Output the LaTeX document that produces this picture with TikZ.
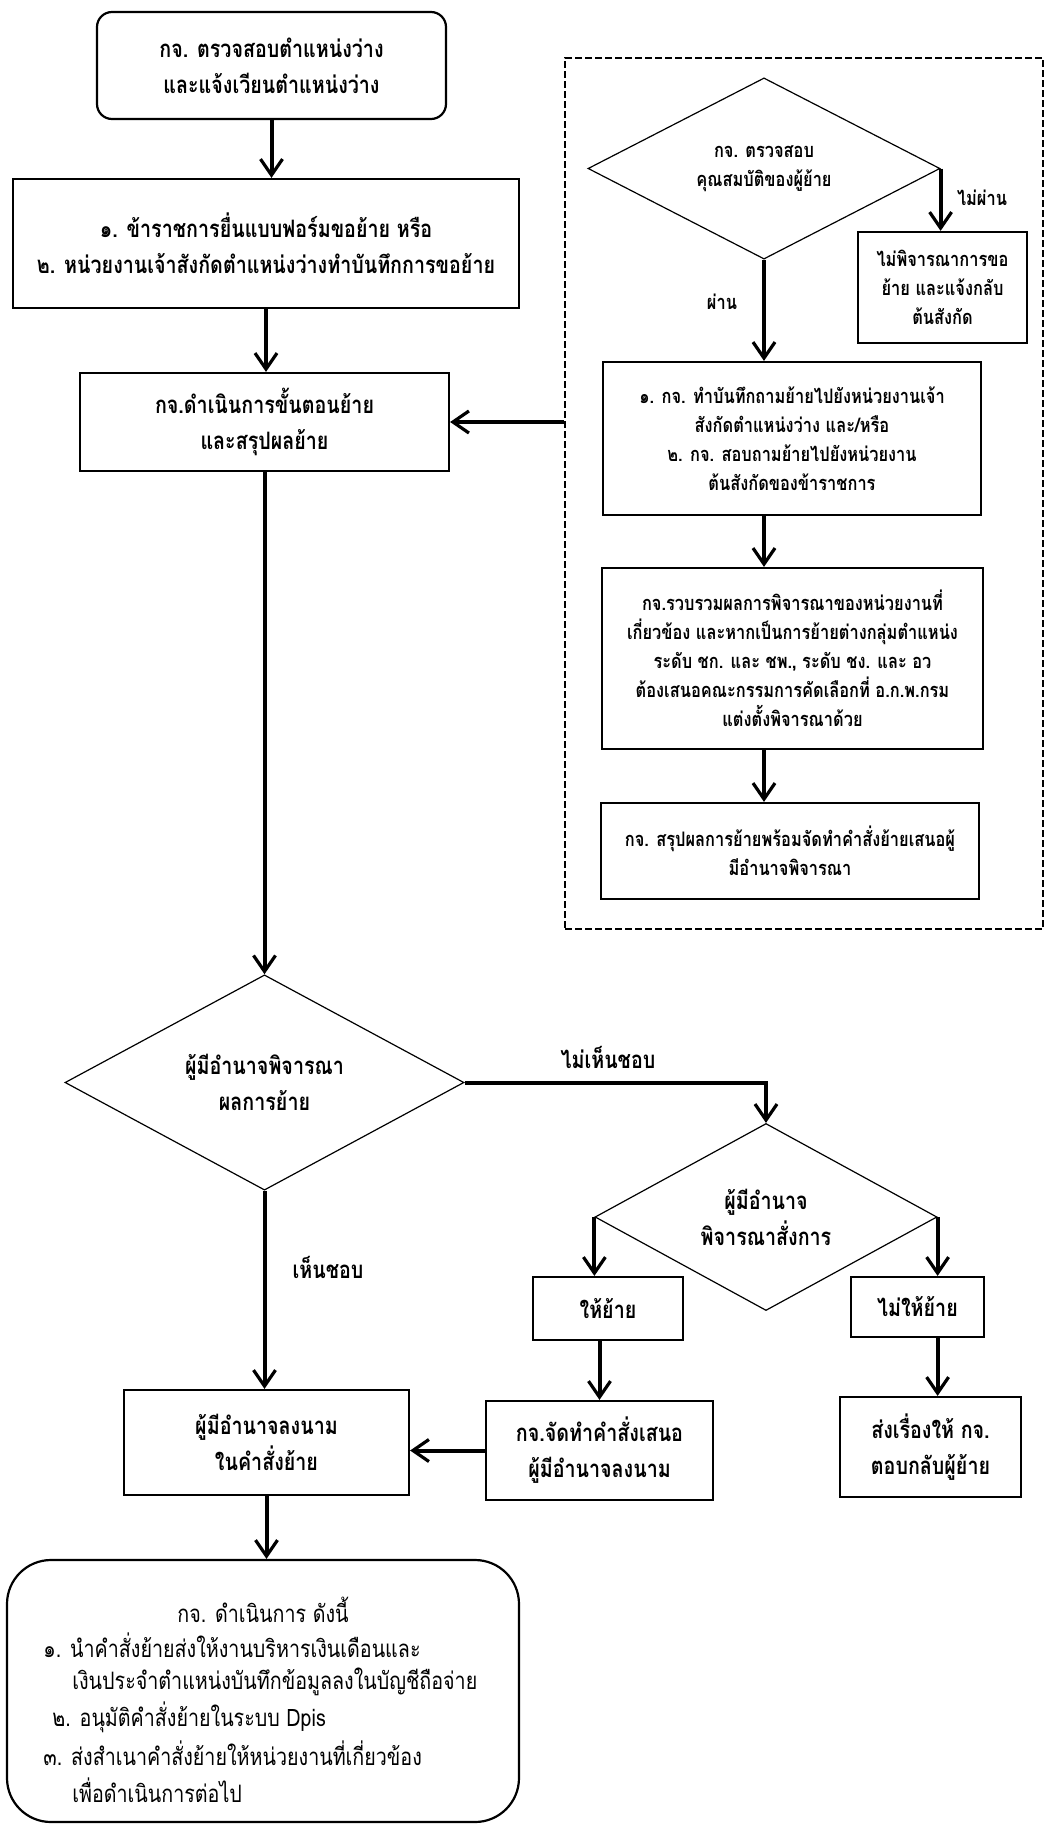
\documentclass[tikz,border=0pt]{standalone}
\usepackage{fontspec}
\setmainfont[Script=Thai,FakeStretch=0.82]{Loma}
\usetikzlibrary{shapes.geometric,arrows.meta}
\tikzset{
  mainfont/.style={font=\fontsize{12}{18}\selectfont\bfseries},
  smallfont/.style={font=\fontsize{10}{14.5}\selectfont\bfseries},
  box/.style={draw, line width=1.1pt, align=center, inner sep=0pt},
  dia/.style={draw, diamond, line width=0.6pt, align=center, inner sep=0pt},
  dashbox/.style={draw, line width=1pt, dash pattern=on 3.5pt off 1.5pt, inner sep=0pt},
  arr/.style={line width=2pt, -{Straight Barb[length=8pt,width=11pt,line width=1.6pt]}},
  lbl/.style={inner sep=0pt},
  ftext/.style={font=\fontsize{12}{18}\selectfont, inner sep=0pt, anchor=west}
}
\begin{document}
\begin{tikzpicture}[x=0.5pt,y=-0.5pt]
\useasboundingbox (0,0) rectangle (1049,1826);
% left column
\node[box, mainfont, rounded corners=7.5pt, minimum width=174.5pt, minimum height=53.5pt] (start) at (271.5,65.5)
  {กจ. ตรวจสอบตำแหน่งว่าง\\และแจ้งเวียนตำแหน่งว่าง};
\node[box, mainfont, minimum width=253pt, minimum height=64.5pt] (req) at (266,243.5)
  {๑. ข้าราชการยื่นแบบฟอร์มขอย้าย หรือ\\๒. หน่วยงานเจ้าสังกัดตำแหน่งว่างทำบันทึกการขอย้าย};
\node[box, mainfont, minimum width=184.5pt, minimum height=49pt] (proc) at (264.5,422)
  {กจ.ดำเนินการขั้นตอนย้าย\\และสรุปผลย้าย};
% dashed group
\node[dashbox, minimum width=239pt, minimum height=435.5pt] (grp) at (804,493.5) {};
\node[dia, smallfont, minimum width=176pt, minimum height=87.5pt] (dq) at (764,168.5)
  {กจ. ตรวจสอบ\\คุณสมบัติของผู้ย้าย};
\node[box, smallfont, minimum width=84.5pt, minimum height=55.5pt] (reject) at (942.5,287.5)
  {ไม่พิจารณาการขอ\\ย้าย และแจ้งกลับ\\ต้นสังกัด};
\node[box, smallfont, minimum width=189pt, minimum height=76.5pt] (memo) at (792,438.5)
  {๑. กจ. ทำบันทึกถามย้ายไปยังหน่วยงานเจ้า\\สังกัดตำแหน่งว่าง และ/หรือ\\๒. กจ. สอบถามย้ายไปยังหน่วยงาน\\ต้นสังกัดของข้าราชการ};
\node[box, smallfont, minimum width=190.5pt, minimum height=90.5pt] (collect) at (792.5,658.5)
  {กจ.รวบรวมผลการพิจารณาของหน่วยงานที่\\เกี่ยวข้อง และหากเป็นการย้ายต่างกลุ่มตำแหน่ง\\ระดับ ชก. และ ชพ., ระดับ ชง. และ อว\\ต้องเสนอคณะกรรมการคัดเลือกที่ อ.ก.พ.กรม\\แต่งตั้งพิจารณาด้วย};
\node[box, smallfont, minimum width=189pt, minimum height=48pt] (summ) at (790,851)
  {กจ. สรุปผลการย้ายพร้อมจัดทำคำสั่งย้ายเสนอผู้\\มีอำนาจพิจารณา};
% lower part
\node[dia, mainfont, minimum width=199.5pt, minimum height=84.5pt] (d2) at (264.5,1082.5)
  {ผู้มีอำนาจพิจารณา\\ผลการย้าย};
\node[dia, mainfont, minimum width=171pt, minimum height=85pt] (d3) at (766,1217)
  {ผู้มีอำนาจ\\พิจารณาสั่งการ};
\node[box, mainfont, minimum width=75pt, minimum height=31.5pt] (allow) at (608,1308.5) {ให้ย้าย};
\node[box, mainfont, minimum width=66.5pt, minimum height=30pt] (deny) at (917.5,1307) {ไม่ให้ย้าย};
\node[box, mainfont, minimum width=113.5pt, minimum height=49.5pt] (prep) at (599.5,1450.5)
  {กจ.จัดทำคำสั่งเสนอ\\ผู้มีอำนาจลงนาม};
\node[box, mainfont, minimum width=90.5pt, minimum height=50pt] (notify) at (930.5,1447)
  {ส่งเรื่องให้ กจ.\\ตอบกลับผู้ย้าย};
\node[box, mainfont, minimum width=142.5pt, minimum height=52.5pt] (sign) at (266.5,1442.5)
  {ผู้มีอำนาจลงนาม\\ในคำสั่งย้าย};
\node[box, rounded corners=22pt, minimum width=256pt, minimum height=131pt] (final) at (263,1691) {};
\node[ftext, anchor=center] (ft) at (263,1610) {กจ. ดำเนินการ ดังนี้};
\node[ftext] (f1) at (43,1645) {๑. นำคำสั่งย้ายส่งให้งานบริหารเงินเดือนและ};
\node[ftext] (f2) at (72,1682) {เงินประจำตำแหน่งบันทึกข้อมูลลงในบัญชีถือจ่าย};
\node[ftext] (f3) at (52,1717) {๒. อนุมัติคำสั่งย้ายในระบบ Dpis};
\node[ftext] (f4) at (43,1753) {๓. ส่งสำเนาคำสั่งย้ายให้หน่วยงานที่เกี่ยวข้อง};
\node[ftext] (f5) at (72,1790) {เพื่อดำเนินการต่อไป};
% labels
\node[lbl, smallfont] (lno) at (982,198) {ไม่ผ่าน};
\node[lbl, smallfont] (lyes) at (722,302) {ผ่าน};
\node[lbl, mainfont] (ldis) at (608,1057) {ไม่เห็นชอบ};
\node[lbl, mainfont] (lagr) at (328,1267) {เห็นชอบ};
% arrows
\draw[arr] (start.south) -- (start.south |- req.north);
\draw[arr] (req.south) -- (req.south |- proc.north);
\draw[arr] (grp.west |- proc.east) -- (proc.east);
\draw[arr] (dq.east) -- (dq.east |- reject.north);
\draw[arr] (dq.south) -- (dq.south |- memo.north);
\draw[arr] (dq.south |- memo.south) -- (dq.south |- collect.north);
\draw[arr] (dq.south |- collect.south) -- (dq.south |- summ.north);
\draw[arr] (proc.south) -- (proc.south |- d2.north);
\draw[arr] (d2.east) -| (d3.north);
\draw[arr] (d2.south) -- (d2.south |- sign.north);
\draw[arr] (d3.west) -- (d3.west |- allow.north);
\draw[arr] (d3.east) -- (d3.east |- deny.north);
\draw[arr] (prep.north |- allow.south) -- (prep.north);
\draw[arr] (d3.east |- deny.south) -- (d3.east |- notify.north);
\draw[arr] (prep.west) -- (prep.west -| sign.east);
\draw[arr] (sign.south) -- (sign.south |- final.north);
\end{tikzpicture}
\end{document}
